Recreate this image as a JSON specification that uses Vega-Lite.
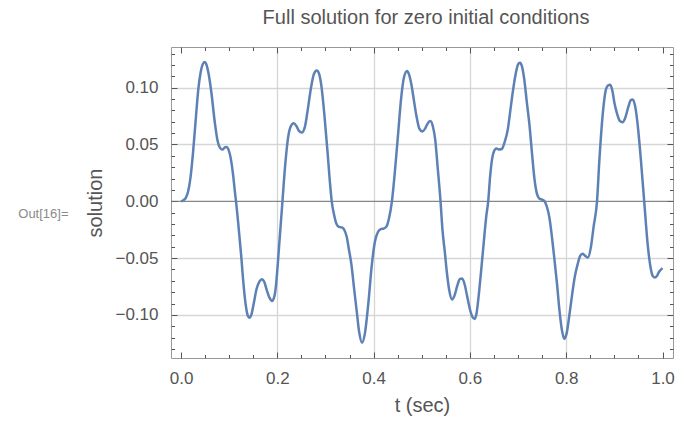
{
  "$schema": "https://vega.github.io/schema/vega-lite/v6.json",
  "width": 502,
  "height": 311,
  "autosize": {"type": "none"},
  "padding": {"left": 171, "top": 47, "right": 5, "bottom": 66},
  "title": {"text": "Full solution for zero initial conditions", "font": "Liberation Sans", "fontSize": 20, "fontWeight": "normal", "color": "#555555", "offset": 19, "dx": 4},
  "config": {
    "view": {"stroke": "#999999", "strokeWidth": 1},
    "axis": {"domain": false, "grid": false, "labelFont": "Liberation Sans", "titleFont": "Liberation Sans", "tickColor": "#555555", "tickWidth": 1, "labelColor": "#555555", "titleColor": "#555555", "titleFontWeight": "normal", "labelFontSize": 17, "titleFontSize": 20}
  },
  "data": {"values": [
    {"t":0.000,"v":0.000},{"t":0.005,"v":0.001},{"t":0.010,"v":0.003},{"t":0.015,"v":0.009},{"t":0.020,"v":0.022},{"t":0.025,"v":0.043},{"t":0.030,"v":0.069},{"t":0.036,"v":0.099},{"t":0.041,"v":0.114},{"t":0.045,"v":0.1205},{"t":0.049,"v":0.1225},{"t":0.053,"v":0.120},{"t":0.057,"v":0.113},{"t":0.063,"v":0.096},{"t":0.070,"v":0.070},{"t":0.076,"v":0.053},{"t":0.081,"v":0.047},{"t":0.086,"v":0.0455},{"t":0.091,"v":0.0475},{"t":0.094,"v":0.0478},{"t":0.099,"v":0.045},{"t":0.104,"v":0.036},{"t":0.108,"v":0.024},{"t":0.112,"v":0.008},{"t":0.115,"v":-0.003},{"t":0.119,"v":-0.020},{"t":0.125,"v":-0.048},{"t":0.130,"v":-0.074},{"t":0.135,"v":-0.093},{"t":0.139,"v":-0.101},{"t":0.142,"v":-0.1025},{"t":0.146,"v":-0.100},{"t":0.151,"v":-0.090},{"t":0.157,"v":-0.077},{"t":0.163,"v":-0.0705},{"t":0.168,"v":-0.0685},{"t":0.173,"v":-0.071},{"t":0.178,"v":-0.078},{"t":0.184,"v":-0.085},{"t":0.189,"v":-0.0878},{"t":0.193,"v":-0.085},{"t":0.197,"v":-0.075},{"t":0.201,"v":-0.055},{"t":0.205,"v":-0.032},{"t":0.210,"v":-0.004},{"t":0.216,"v":0.030},{"t":0.222,"v":0.055},{"t":0.228,"v":0.066},{"t":0.234,"v":0.0687},{"t":0.240,"v":0.066},{"t":0.245,"v":0.062},{"t":0.251,"v":0.0605},{"t":0.257,"v":0.065},{"t":0.263,"v":0.080},{"t":0.270,"v":0.100},{"t":0.276,"v":0.112},{"t":0.282,"v":0.1152},{"t":0.287,"v":0.112},{"t":0.292,"v":0.100},{"t":0.298,"v":0.075},{"t":0.304,"v":0.045},{"t":0.309,"v":0.018},{"t":0.313,"v":0.000},{"t":0.318,"v":-0.012},{"t":0.323,"v":-0.020},{"t":0.328,"v":-0.0225},{"t":0.334,"v":-0.023},{"t":0.339,"v":-0.025},{"t":0.344,"v":-0.031},{"t":0.349,"v":-0.043},{"t":0.354,"v":-0.056},{"t":0.359,"v":-0.075},{"t":0.365,"v":-0.097},{"t":0.370,"v":-0.115},{"t":0.376,"v":-0.1244},{"t":0.382,"v":-0.116},{"t":0.389,"v":-0.090},{"t":0.396,"v":-0.057},{"t":0.403,"v":-0.035},{"t":0.409,"v":-0.027},{"t":0.415,"v":-0.0245},{"t":0.421,"v":-0.024},{"t":0.427,"v":-0.022},{"t":0.432,"v":-0.015},{"t":0.438,"v":0.000},{"t":0.445,"v":0.030},{"t":0.451,"v":0.060},{"t":0.457,"v":0.090},{"t":0.463,"v":0.109},{"t":0.4695,"v":0.1147},{"t":0.474,"v":0.111},{"t":0.479,"v":0.1015},{"t":0.484,"v":0.088},{"t":0.489,"v":0.075},{"t":0.495,"v":0.064},{"t":0.501,"v":0.0615},{"t":0.507,"v":0.064},{"t":0.513,"v":0.069},{"t":0.518,"v":0.0706},{"t":0.523,"v":0.066},{"t":0.528,"v":0.054},{"t":0.533,"v":0.030},{"t":0.539,"v":0.000},{"t":0.543,"v":-0.025},{"t":0.548,"v":-0.045},{"t":0.552,"v":-0.062},{"t":0.557,"v":-0.078},{"t":0.563,"v":-0.0865},{"t":0.568,"v":-0.083},{"t":0.574,"v":-0.074},{"t":0.579,"v":-0.0685},{"t":0.584,"v":-0.068},{"t":0.589,"v":-0.073},{"t":0.594,"v":-0.083},{"t":0.600,"v":-0.095},{"t":0.605,"v":-0.1015},{"t":0.610,"v":-0.1035},{"t":0.614,"v":-0.098},{"t":0.619,"v":-0.080},{"t":0.624,"v":-0.058},{"t":0.629,"v":-0.035},{"t":0.634,"v":-0.013},{"t":0.638,"v":0.000},{"t":0.642,"v":0.022},{"t":0.646,"v":0.037},{"t":0.650,"v":0.044},{"t":0.655,"v":0.0465},{"t":0.660,"v":0.0455},{"t":0.666,"v":0.046},{"t":0.672,"v":0.052},{"t":0.679,"v":0.064},{"t":0.684,"v":0.080},{"t":0.689,"v":0.096},{"t":0.695,"v":0.112},{"t":0.700,"v":0.1205},{"t":0.704,"v":0.122},{"t":0.708,"v":0.119},{"t":0.713,"v":0.107},{"t":0.718,"v":0.088},{"t":0.724,"v":0.066},{"t":0.729,"v":0.042},{"t":0.734,"v":0.020},{"t":0.739,"v":0.007},{"t":0.744,"v":0.0025},{"t":0.750,"v":0.0015},{"t":0.755,"v":0.000},{"t":0.760,"v":-0.005},{"t":0.765,"v":-0.014},{"t":0.770,"v":-0.030},{"t":0.775,"v":-0.049},{"t":0.781,"v":-0.073},{"t":0.786,"v":-0.096},{"t":0.791,"v":-0.113},{"t":0.796,"v":-0.121},{"t":0.801,"v":-0.116},{"t":0.806,"v":-0.102},{"t":0.812,"v":-0.083},{"t":0.818,"v":-0.066},{"t":0.824,"v":-0.055},{"t":0.829,"v":-0.048},{"t":0.834,"v":-0.0462},{"t":0.839,"v":-0.0478},{"t":0.845,"v":-0.0495},{"t":0.851,"v":-0.041},{"t":0.857,"v":-0.022},{"t":0.864,"v":0.000},{"t":0.869,"v":0.037},{"t":0.8755,"v":0.075},{"t":0.8826,"v":0.0985},{"t":0.887,"v":0.102},{"t":0.8915,"v":0.1025},{"t":0.896,"v":0.097},{"t":0.900,"v":0.087},{"t":0.905,"v":0.078},{"t":0.911,"v":0.071},{"t":0.917,"v":0.0695},{"t":0.923,"v":0.074},{"t":0.929,"v":0.083},{"t":0.934,"v":0.089},{"t":0.938,"v":0.0897},{"t":0.943,"v":0.084},{"t":0.948,"v":0.069},{"t":0.955,"v":0.037},{"t":0.962,"v":0.000},{"t":0.969,"v":-0.037},{"t":0.976,"v":-0.060},{"t":0.980,"v":-0.066},{"t":0.984,"v":-0.067},{"t":0.988,"v":-0.066},{"t":0.993,"v":-0.062},{"t":1.000,"v":-0.0588}
  ]},
  "resolve": {"axis": {"x": "independent", "y": "independent"}},
  "layer": [
    {
      "mark": {"type": "line", "opacity": 0},
      "encoding": {
        "x": {"field": "t", "type": "quantitative", "scale": {"domain": [-0.0208, 1.0218], "nice": false, "zero": false},
              "axis": {"orient": "bottom", "values": [0.2, 0.4, 0.6, 0.8], "grid": true, "gridColor": "#d6d6d6", "gridWidth": 1.3, "ticks": false, "labels": false, "title": null}},
        "y": {"field": "v", "type": "quantitative", "scale": {"domain": [-0.1379, 0.1358], "nice": false, "zero": false},
              "axis": {"orient": "left", "values": [-0.1, -0.05, 0.05, 0.1], "grid": true, "gridColor": "#d6d6d6", "gridWidth": 1.3, "ticks": false, "labels": false,
                       "title": "Out[16]=", "titleAngle": 0, "titleAlign": "right", "titleBaseline": "middle", "titleX": -103, "titleY": 166, "titleFontSize": 13, "titleColor": "#8a8a8a"}}
      }
    },
    {
      "data": {"values": [{}]},
      "mark": {"type": "rule", "color": "#6a6a6a", "strokeWidth": 1},
      "encoding": {
        "y": {"datum": 0, "type": "quantitative", "scale": {"domain": [-0.1379, 0.1358], "nice": false, "zero": false}, "axis": null}
      }
    },
    {
      "mark": {"type": "line", "opacity": 0},
      "encoding": {
        "x": {"field": "t", "type": "quantitative", "scale": {"domain": [-0.0208, 1.0218], "nice": false, "zero": false},
              "axis": {"orient": "bottom", "values": [0, 0.2, 0.4, 0.6, 0.8, 1], "format": ".1f", "ticks": false, "labelPadding": 12, "title": "t (sec)", "titlePadding": 9}},
        "y": {"field": "v", "type": "quantitative", "scale": {"domain": [-0.1379, 0.1358], "nice": false, "zero": false},
              "axis": {"orient": "left", "values": [-0.1, -0.05, 0, 0.05, 0.1], "format": ".2f", "ticks": false, "labelPadding": 13, "title": "solution", "titlePadding": 9}}
      }
    },
    {
      "mark": {"type": "line", "opacity": 0},
      "encoding": {
        "x": {"field": "t", "type": "quantitative", "scale": {"domain": [-0.0208, 1.0218], "nice": false, "zero": false},
              "axis": {"orient": "bottom", "values": [0, 0.2, 0.4, 0.6, 0.8, 1], "labels": false, "ticks": true, "tickSize": -6, "title": null}},
        "y": {"field": "v", "type": "quantitative", "scale": {"domain": [-0.1379, 0.1358], "nice": false, "zero": false},
              "axis": {"orient": "left", "values": [-0.1, -0.05, 0, 0.05, 0.1], "labels": false, "ticks": true, "tickSize": -6, "title": null}}
      }
    },
    {
      "mark": {"type": "line", "opacity": 0},
      "encoding": {
        "x": {"field": "t", "type": "quantitative", "scale": {"domain": [-0.0208, 1.0218], "nice": false, "zero": false},
              "axis": {"orient": "bottom", "values": [0.05, 0.1, 0.15, 0.25, 0.3, 0.35, 0.45, 0.5, 0.55, 0.65, 0.7, 0.75, 0.85, 0.9, 0.95], "labels": false, "ticks": true, "tickSize": -3.5, "title": null}},
        "y": {"field": "v", "type": "quantitative", "scale": {"domain": [-0.1379, 0.1358], "nice": false, "zero": false},
              "axis": {"orient": "left", "values": [-0.13, -0.12, -0.11, -0.09, -0.08, -0.07, -0.06, -0.04, -0.03, -0.02, -0.01, 0.01, 0.02, 0.03, 0.04, 0.06, 0.07, 0.08, 0.09, 0.11, 0.12, 0.13], "labels": false, "ticks": true, "tickSize": -3.5, "title": null}}
      }
    },
    {
      "mark": {"type": "line", "opacity": 0},
      "encoding": {
        "x": {"field": "t", "type": "quantitative", "scale": {"domain": [-0.0208, 1.0218], "nice": false, "zero": false},
              "axis": {"orient": "top", "values": [0, 0.2, 0.4, 0.6, 0.8, 1], "labels": false, "ticks": true, "tickSize": -6, "title": null}},
        "y": {"field": "v", "type": "quantitative", "scale": {"domain": [-0.1379, 0.1358], "nice": false, "zero": false},
              "axis": {"orient": "right", "values": [-0.1, -0.05, 0, 0.05, 0.1], "labels": false, "ticks": true, "tickSize": -6, "title": null}}
      }
    },
    {
      "mark": {"type": "line", "opacity": 0},
      "encoding": {
        "x": {"field": "t", "type": "quantitative", "scale": {"domain": [-0.0208, 1.0218], "nice": false, "zero": false},
              "axis": {"orient": "top", "values": [0.05, 0.1, 0.15, 0.25, 0.3, 0.35, 0.45, 0.5, 0.55, 0.65, 0.7, 0.75, 0.85, 0.9, 0.95], "labels": false, "ticks": true, "tickSize": -3.5, "title": null}},
        "y": {"field": "v", "type": "quantitative", "scale": {"domain": [-0.1379, 0.1358], "nice": false, "zero": false},
              "axis": {"orient": "right", "values": [-0.13, -0.12, -0.11, -0.09, -0.08, -0.07, -0.06, -0.04, -0.03, -0.02, -0.01, 0.01, 0.02, 0.03, 0.04, 0.06, 0.07, 0.08, 0.09, 0.11, 0.12, 0.13], "labels": false, "ticks": true, "tickSize": -3.5, "title": null}}
      }
    },
    {
      "mark": {"type": "line", "color": "#5E81B5", "strokeWidth": 2.5, "interpolate": "monotone"},
      "encoding": {
        "x": {"field": "t", "type": "quantitative", "scale": {"domain": [-0.0208, 1.0218], "nice": false, "zero": false}, "axis": null},
        "y": {"field": "v", "type": "quantitative", "scale": {"domain": [-0.1379, 0.1358], "nice": false, "zero": false}, "axis": null}
      }
    }
  ]
}
